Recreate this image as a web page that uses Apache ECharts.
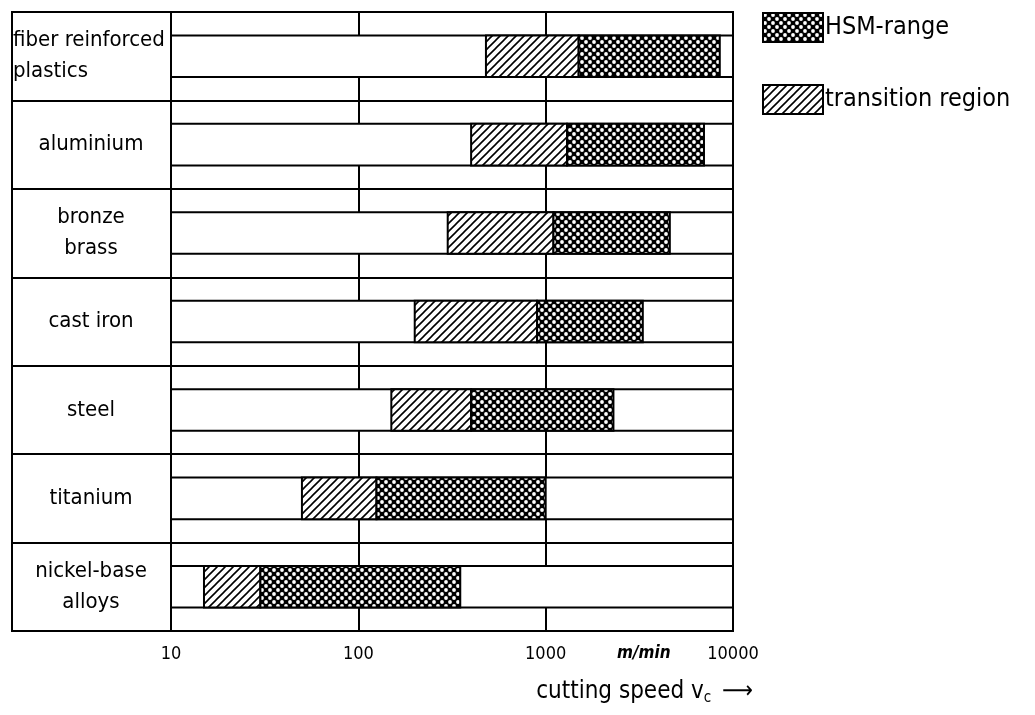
<!DOCTYPE html>
<html>
<head>
<meta charset="utf-8">
<script src="https://cdn.jsdelivr.net/npm/echarts@6/dist/echarts.min.js"></script>
<style>
  html, body { margin: 0; padding: 0; background: #fff; }
  #main { width: 1035px; height: 715px; }
</style>
</head>
<body>
<div id="main"></div>
<script>
// materials, top to bottom
var categories = ['fiber reinforced\nplastics', 'aluminium', 'bronze\nbrass', 'cast iron', 'steel', 'titanium', 'nickel-base\nalloys'];
// cutting speed in m/min
var transitionStart = [480, 400, 300, 200, 150, 50, 15];
var hsmStart = [1500, 1300, 1100, 900, 400, 125, 30];
var hsmEnd = [8500, 7000, 4600, 3300, 2300, 1000, 350];
var speedRange = [10, 10000];
var tickLabels = ['10', '100', '1000', '10000'];

var FONT = '"DejaVu Sans Condensed", "DejaVu Sans", sans-serif';

// fill patterns
function hatchPattern() {
	var c = document.createElement('canvas');
	c.width = 8; c.height = 8;
	var g = c.getContext('2d');
	g.fillStyle = '#fff';
	g.fillRect(0, 0, 8, 8);
	g.strokeStyle = '#000';
	g.lineWidth = 1.6;
	g.beginPath();
	g.moveTo(-4, 4); g.lineTo(4, -4);
	g.moveTo(0, 8); g.lineTo(8, 0);
	g.moveTo(4, 12); g.lineTo(12, 4);
	g.stroke();
	return {image: c, repeat: 'repeat'};
}
function crossPattern() {
	var c = document.createElement('canvas');
	c.width = 8; c.height = 8;
	var g = c.getContext('2d');
	g.fillStyle = '#000';
	g.fillRect(0, 0, 8, 8);
	g.fillStyle = '#fff';
	[[2, 2], [6, 6]].forEach(function (p) {
		g.beginPath();
		g.arc(p[0], p[1], 1.9, 0, Math.PI * 2);
		g.fill();
	});
	return {image: c, repeat: 'repeat'};
}
var hatch = hatchPattern();
var cross = crossPattern();

function barItem(params, api) {
	var cat = api.value(0);
	var p0 = api.coord([api.value(1), cat]);
	var p1 = api.coord([api.value(2), cat]);
	var h = api.size([0, 1])[1] * 0.47;
	return {
		type: 'rect',
		shape: {x: p0[0], y: p0[1] - h / 2, width: p1[0] - p0[0], height: h},
		style: api.style()
	};
}

var baseData = [], transData = [], hsmData = [];
for (var i = 0; i < categories.length; i++) {
	baseData.push([i, speedRange[0], speedRange[1]]);
	transData.push([i, transitionStart[i], hsmStart[i]]);
	hsmData.push([i, hsmStart[i], hsmEnd[i]]);
}

var myChart = echarts.init(document.getElementById('main'));
var option = {
	backgroundColor: '#fff',
	animation: false,
	textStyle: {fontFamily: FONT, color: '#000'},
	grid: {
		left: 171, right: 302, top: 12, bottom: 84,
		show: true, borderColor: '#000', borderWidth: 2
	},
	legend: {
		orient: 'vertical',
		left: 762, top: 12,
		padding: 0,
		itemWidth: 60, itemHeight: 29, itemGap: 41,
		icon: 'rect',
		textStyle: {fontFamily: FONT, fontSize: 25, color: '#000', padding: [0, 0, 0, -3]},
		data: [
			{name: 'HSM-range', itemStyle: {color: cross, borderColor: '#000', borderWidth: 2}},
			{name: 'transition region', itemStyle: {color: hatch, borderColor: '#000', borderWidth: 2}}
		]
	},
	xAxis: {
		type: 'log',
		logBase: 10,
		min: speedRange[0],
		max: speedRange[1],
		axisLine: {show: false},
		axisTick: {show: false},
		splitLine: {show: true, lineStyle: {color: '#000', width: 2}},
		axisLabel: {
			fontFamily: FONT, fontSize: 18, color: '#000', margin: 14,
			formatter: function (v) {
				var k = Math.round(Math.log10(v)) - 1;
				return tickLabels[k] || '';
			}
		},
		name: '{t|cutting speed v}{sub|c}{t| ⟶}',
		nameLocation: 'end',
		nameGap: 20,
		nameTextStyle: {
			align: 'right', verticalAlign: 'top', padding: [47, 0, 0, 0],
			rich: {
				t: {fontFamily: FONT, fontSize: 24, color: '#000'},
				sub: {fontFamily: FONT, fontSize: 15, color: '#000', verticalAlign: 'bottom', padding: [13, 4, 0, 0]}
			}
		}
	},
	yAxis: {
		type: 'category',
		inverse: true,
		data: categories,
		axisLine: {show: true, lineStyle: {color: '#000', width: 2}},
		axisTick: {show: true, length: 160, lineStyle: {color: '#000', width: 2}},
		splitLine: {show: true, lineStyle: {color: '#000', width: 2}},
		axisLabel: {
			interval: 0,
			margin: 80,
			align: 'center',
			fontFamily: FONT, fontSize: 22, lineHeight: 31, color: '#000',
			formatter: function (v, idx) {
				if (idx === 0) {
					return v.split('\n').map(function (s) { return '{l|' + s + '}'; }).join('\n');
				}
				return v;
			},
			rich: {l: {width: 156, align: 'left', fontFamily: FONT, fontSize: 22, lineHeight: 31, color: '#000'}}
		}
	},
	graphic: [
		{type: 'line', shape: {x1: 12, y1: 12, x2: 12, y2: 631}, style: {stroke: '#000', lineWidth: 2}},
		{type: 'text', left: 617, top: 645, style: {text: 'm/min', font: 'italic bold 17px ' + FONT, fill: '#000'}}
	],
	series: [
		{
			name: 'base', type: 'custom', renderItem: barItem,
			encode: {x: [1, 2], y: 0},
			itemStyle: {color: '#fff', borderColor: '#000', borderWidth: 2},
			data: baseData, z: 2
		},
		{
			name: 'transition region', type: 'custom', renderItem: barItem,
			encode: {x: [1, 2], y: 0},
			itemStyle: {color: hatch, borderColor: '#000', borderWidth: 2},
			data: transData, z: 3
		},
		{
			name: 'HSM-range', type: 'custom', renderItem: barItem,
			encode: {x: [1, 2], y: 0},
			itemStyle: {color: cross, borderColor: '#000', borderWidth: 2},
			data: hsmData, z: 4
		}
	]
};
myChart.setOption(option);
</script>
</body>
</html>
